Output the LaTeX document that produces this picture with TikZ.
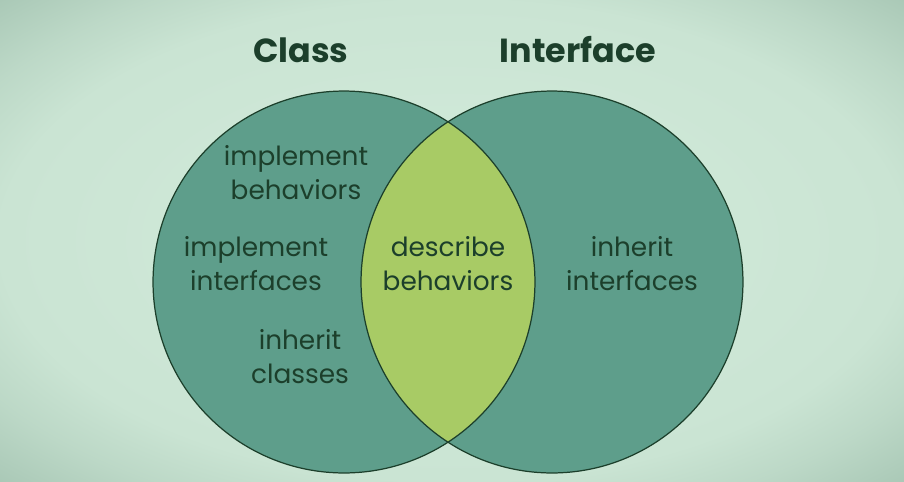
\documentclass[tikz,border=0pt]{standalone}
\usepackage{fontspec}
\setsansfont{Poppins}
\usetikzlibrary{positioning}
\definecolor{vnbg}{HTML}{D3ECDC}
\definecolor{vnbgmid}{HTML}{CAE4D3}
\definecolor{vnbgdark}{HTML}{A8C7B5}
\definecolor{vnteal}{HTML}{5E9E8B}
\definecolor{vnlime}{HTML}{A8CB65}
\definecolor{vnink}{HTML}{1C3F2B}
\pgfdeclareradialshading{vnglow}{\pgfpoint{0bp}{0bp}}{%
  color(0bp)=(vnbg); color(25bp)=(vnbgmid); color(30bp)=(vnbgmid!60!vnbgdark);
  color(36bp)=(vnbgdark); color(50bp)=(vnbgdark)}

\begin{document}
\begin{tikzpicture}[font=\sffamily,x=0.02cm,y=-0.02cm,
  regiontext/.style={align=center,text=vnink,font=\sffamily\fontsize{15}{19.4}\selectfont},
  headtext/.style={text=vnink,font=\sffamily\bfseries\fontsize{19}{24}\selectfont},
  ring/.style={circle,draw=vnink,line width=0.7pt,minimum size=7.64cm,inner sep=0pt}]
  % background
  \shade[shading=vnglow] (0,0) rectangle (904,481);
  \useasboundingbox (0,0) rectangle (904,481);
  % the two sets
  \fill[vnteal] (344,282) circle (3.82cm) (552,282) circle (3.82cm);
  \begin{scope}
    \clip (344,282) circle (3.82cm);
    \fill[vnlime] (552,282) circle (3.82cm);
  \end{scope}
  \node[ring] (class) at (344,282) {};
  \node[ring] (iface) at (552,282) {};
  % titles
  \node[headtext] (classtitle) at (301,50) {Class};
  \node[headtext] (ifacetitle) at (578,50) {Interface};
  % class only
  \node[regiontext] (implbeh) at (296,172.5) {implement\\behaviors};
  \node[regiontext] (implint) at (256,263.5) {implement\\interfaces};
  \node[regiontext] (inhcls) at (300,357) {inherit\\classes};
  % both
  \node[regiontext] (descbeh) at (448,263.5) {describe\\behaviors};
  % interface only
  \node[regiontext] (inhint) at (632,263.5) {inherit\\interfaces};
\end{tikzpicture}
\end{document}
